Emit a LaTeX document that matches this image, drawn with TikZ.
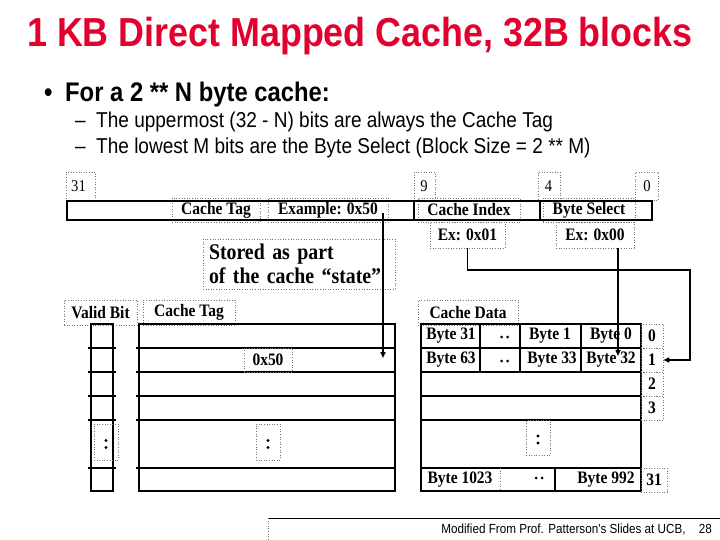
\documentclass[tikz,border=0pt]{standalone}
\usepackage{fontspec}
\setmainfont[FakeStretch=0.885]{Liberation Serif}
\newfontfamily\hv[FakeStretch=0.885]{Liberation Sans}
\usetikzlibrary{arrows.meta}
\definecolor{titlered}{RGB}{226,0,44}
\begin{document}
\begin{tikzpicture}[x=1pt,y=-1pt,
  tb/.style={draw=black!55, dotted, line width=0.6pt, inner sep=0pt},
  lbl/.style={inner sep=0pt, font=\fontsize{17.5}{20}\selectfont\bfseries},
  num/.style={inner sep=0pt, font=\fontsize{16.5}{18}\selectfont},
  gridl/.style={line width=2.2pt},
  arr/.style={line width=1.8pt, -{Triangle[length=6pt,width=5pt]}},
  txt/.style={anchor=base west, inner sep=0pt},
  dotc/.style={circle, fill=black, inner sep=0pt, minimum size=3.4pt}
]
\useasboundingbox (0,0) rectangle (720,540);

% title and bullets
\node[txt, text=titlered, font=\hv\fontsize{40.5}{44}\selectfont\bfseries] (title) at (27,47) {1 KB Direct Mapped Cache, 32B blocks};
\node[txt, font=\hv\fontsize{26.9}{30}\selectfont\bfseries] (bul) at (44,102) {•};
\node[txt, font=\hv\fontsize{26.9}{30}\selectfont\bfseries] (b1) at (65,102) {For a 2 ** N byte cache:};
\node[txt, font=\hv\fontsize{21.5}{24}\selectfont] (d1) at (75,128) {–};
\node[txt, font=\hv\fontsize{21.5}{24}\selectfont] (s1) at (96,128) {The uppermost (32 - N) bits are always the Cache Tag};
\node[txt, font=\hv\fontsize{21.5}{24}\selectfont] (d2) at (75,154) {–};
\node[txt, font=\hv\fontsize{21.5}{24}\selectfont] (s2) at (96,154) {The lowest M bits are the Byte Select (Block Size = 2 ** M)};

% bit numbers
\node[tb, minimum width=29pt, minimum height=28pt] (n31) at (80.5,186) {};
\node[num] (t31) at (78.5,186) {31};
\node[tb, minimum width=21pt, minimum height=28pt] (n9) at (424.5,186) {};
\node[num] (t9) at (424,186) {9};
\node[tb, minimum width=22pt, minimum height=28pt] (n4) at (549,186) {};
\node[num] (t4) at (548.5,186) {4};
\node[tb, minimum width=23pt, minimum height=28pt] (n0) at (647,186) {};
\node[num] (t0) at (647,186) {0};

% address labels
\node[tb, lbl, minimum width=88pt, minimum height=24pt] (ctag) at (216,210) {Cache Tag};
\node[tb, lbl, minimum width=120pt, minimum height=24pt] (ex50) at (328,210) {Example: 0x50};
\node[tb, lbl, minimum width=102pt, minimum height=24pt] (cidx) at (469,210) {Cache Index};
\node[tb, lbl, minimum width=92pt, minimum height=24pt] (bsel) at (589,210) {Byte Select};
\node[tb, lbl, minimum width=75pt, minimum height=26pt] (ex01) at (467.5,235) {Ex: 0x01};
\node[tb, lbl, minimum width=78pt, minimum height=26pt] (ex00) at (595,235) {Ex: 0x00};

% address bar
\draw[gridl] (67,201) rectangle (652,220);
\draw[gridl] (414,201) -- (414,220) (540,201) -- (540,220);

% stored note
\node[tb, minimum width=192pt, minimum height=50pt, text width=180pt, align=left,
      font=\fontsize{22.4}{24}\selectfont\bfseries] (stored) at (299,264)
      {Stored as part\\of the cache “state”};

% headers
\node[tb, lbl, minimum width=73pt, minimum height=25pt] (vb) at (100.5,312.5) {Valid Bit};
\node[tb, lbl, minimum width=92pt, minimum height=25pt] (ctag2) at (189,312.5) {Cache Tag};
\node[tb, lbl, minimum width=100pt, minimum height=25pt] (cdata) at (468,312.5) {Cache Data};

% valid column
\draw[gridl] (91,324) rectangle (113,491);
\foreach \yy in {348,372,396,420,468} \draw[gridl] (88,\yy) -- (116,\yy);
% tag array
\draw[gridl] (139,324) rectangle (395,491);
\foreach \yy in {348,372,396,420,468} \draw[gridl] (136,\yy) -- (395,\yy);
\node[tb, lbl, minimum width=48pt, minimum height=24pt] (v50) at (268,360) {0x50};

% vertical ellipses
\node[tb, minimum width=24pt, minimum height=36pt] (vdots) at (106,442) {};
\node[dotc] (vd1) at (106,440.5) {};
\node[dotc] (vd2) at (106,447.5) {};
\node[tb, minimum width=24pt, minimum height=36pt] (tdots) at (268,442) {};
\node[dotc] (td1) at (268,440.5) {};
\node[dotc] (td2) at (268,447.5) {};

% data array
\draw[gridl] (421,324) rectangle (641,491);
\foreach \yy in {348,372,396,420,468} \draw[gridl] (421,\yy) -- (641,\yy);
\draw[gridl] (480,324) -- (480,372) (520,324) -- (520,372) (581,324) -- (581,372);
\draw[line width=1.2pt] (555,468) -- (555,491);
\draw[tb] (500,468) -- (500,491);
\node[tb, minimum width=24pt, minimum height=35pt] (ddots) at (538,438) {};
\node[dotc] (dd1) at (538,436) {};
\node[dotc] (dd2) at (538,443) {};

\node[lbl] (c31) at (451,336) {Byte 31};
\node[dotc, minimum size=3pt] (da1) at (501.5,337) {};
\node[dotc, minimum size=3pt] (da2) at (507.5,337) {};
\node[lbl] (c1) at (550,336) {Byte 1};
\node[lbl] (c0) at (611,336) {Byte 0};
\node[lbl] (c63) at (451,360) {Byte 63};
\node[dotc, minimum size=3pt] (db1) at (501.5,361) {};
\node[dotc, minimum size=3pt] (db2) at (507.5,361) {};
\node[lbl] (c33) at (552,360) {Byte 33};
\node[lbl] (c32) at (611,360) {Byte 32};
\node[lbl] (c1023) at (460,480) {Byte 1023};
\node[dotc, minimum size=3pt] (dc1) at (536,478) {};
\node[dotc, minimum size=3pt] (dc2) at (542,478) {};
\node[lbl] (c992) at (606,480) {Byte 992};

% row numbers
\node[tb, lbl, minimum width=22pt, minimum height=24pt] (r0) at (652,336) {0};
\node[tb, lbl, minimum width=22pt, minimum height=24pt] (r1) at (652,360) {1};
\node[tb, lbl, minimum width=22pt, minimum height=24pt] (r2) at (652,384) {2};
\node[tb, lbl, minimum width=22pt, minimum height=24pt] (r3) at (652,408) {3};
\node[tb, lbl, minimum width=26pt, minimum height=24pt] (r31) at (654,480) {31};

% arrows
\coordinate (p1) at (383,213);
\coordinate (q1) at (383,358);
\draw[arr] (p1) -- (q1);
\coordinate (bend) at (690,270);
\draw[arr] (ex01.south) |- (bend) |- (r1.east);
\coordinate (p3) at (618,248);
\coordinate (q3) at (618,356);
\draw[arr] (p3) -- (q3);

% footer
\draw[line width=1pt] (268,518) -- (720,518);
\draw[tb] (268,518) -- (268,540);
\node[anchor=base east, inner sep=0pt, font=\hv\fontsize{13.2}{15}\selectfont] (foot) at (712,533) {Modified From Prof. Patterson's Slides at UCB,\quad 28};
\end{tikzpicture}
\end{document}
